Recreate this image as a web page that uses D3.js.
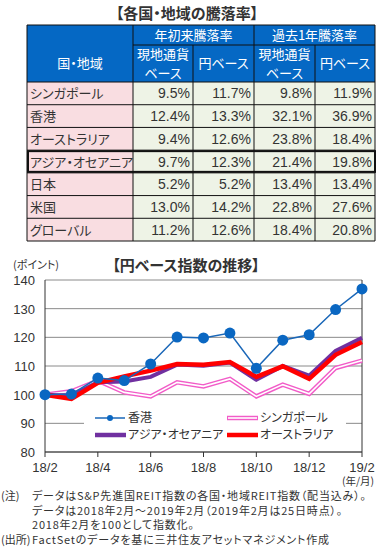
<!DOCTYPE html>
<meta charset="utf-8">
<style>
body { margin: 0; background: #fff; }
svg text { font-family: "Noto Sans CJK JP", "DejaVu Sans", sans-serif; font-feature-settings: "palt" 1; }
.num { font-family: "Liberation Sans", "Noto Sans CJK JP", sans-serif; }
.title { font-size: 15px; font-weight: bold; fill: #333; }
.hdr { fill: #fff; font-size: 13px; }
.cell { fill: #333; font-size: 13px; }
.tick { fill: #333; font-size: 13px; }
.note { fill: #333; font-size: 11px; letter-spacing: 0.8px; }
.leg { fill: #333; font-size: 12px; }
</style>
<svg width="388" height="549"></svg>
<script src="https://d3js.org/d3.v7.min.js"></script>
<script>
// table
var regions = ["シンガポール", "香港", "オーストラリア", "アジア・オセアニア", "日本", "米国", "グローバル"];
var ytdLocal = [9.5, 12.4, 9.4, 9.7, 5.2, 13.0, 11.2];
var ytdYen   = [11.7, 13.3, 12.6, 12.3, 5.2, 14.2, 12.6];
var yrLocal  = [9.8, 32.1, 23.8, 21.4, 13.4, 22.8, 18.4];
var yrYen    = [11.9, 36.9, 18.4, 19.8, 13.4, 27.6, 20.8];

// index chart (2018/2 = 100)
var months = ["18/2", "18/3", "18/4", "18/5", "18/6", "18/7", "18/8", "18/9", "18/10", "18/11", "18/12", "19/1", "19/2"];
var hongKong  = [100, 100.2, 105.8, 104.9, 110.7, 120.1, 119.8, 121.5, 109.2, 119.0, 120.9, 129.7, 136.9];
var singapore = [100, 101.2, 104.9, 100.8, 99.4, 104.3, 102.9, 105.5, 99.4, 103.5, 100.3, 109.3, 111.9];
var asiaOce   = [100, 99.6, 104.3, 104.6, 106.2, 110.5, 110.1, 111.2, 105.2, 110.0, 106.6, 115.3, 119.8];
var australia = [100, 98.5, 104.1, 106.4, 108.4, 110.7, 110.4, 111.4, 106.2, 109.9, 105.5, 113.9, 118.4];
var yTicks = [80, 90, 100, 110, 120, 130, 140];
var xTickLabels = ["18/2", "18/4", "18/6", "18/8", "18/10", "18/12", "19/2"];

var svg = d3.select("svg");

// ---------- table ----------
svg.append("text").attr("class", "title").attr("x", 187).attr("y", 19)
  .attr("text-anchor", "middle").text("【各国・地域の騰落率】");

var colX = [27, 133, 193, 254, 315, 375];
var row = d3.scaleBand().domain(regions).range([82, 241]);
var t = svg.append("g");

t.append("rect").attr("x", colX[0]).attr("y", 25).attr("width", colX[5] - colX[0]).attr("height", 57)
  .attr("fill", "#0568c4");

var cols = [ytdLocal, ytdYen, yrLocal, yrYen];
regions.forEach(function (r, i) {
  var y0 = row(r), h = row.bandwidth();
  t.append("rect").attr("x", colX[0]).attr("y", y0).attr("width", colX[1] - colX[0]).attr("height", h)
    .attr("fill", "#f9dde1");
  t.append("rect").attr("x", colX[1]).attr("y", y0).attr("width", colX[5] - colX[1]).attr("height", h)
    .attr("fill", "#eef3e6");
  t.append("text").attr("class", "cell").attr("x", colX[0] + 3).attr("y", y0 + h / 2 + 5).text(r);
  cols.forEach(function (c, j) {
    t.append("text").attr("class", "cell num").attr("x", colX[j + 2] - 3).attr("y", y0 + h / 2 + 5)
      .attr("text-anchor", "end").style("font-size", "14px").text(c[i].toFixed(1) + "%");
  });
});

// grid lines
var ln = function (x1, y1, x2, y2, w) {
  t.append("line").attr("x1", x1).attr("y1", y1).attr("x2", x2).attr("y2", y2)
    .attr("stroke", "#111").attr("stroke-width", w || 1);
};
ln(colX[0], 25, colX[5], 25);
ln(colX[1], 45, colX[5], 45);
ln(colX[0], 82, colX[5], 82);
regions.forEach(function (r) { ln(colX[0], row(r) + row.bandwidth(), colX[5], row(r) + row.bandwidth()); });
ln(colX[0], 25, colX[0], 241);
ln(colX[5], 25, colX[5], 241);
ln(colX[1], 25, colX[1], 241);
ln(colX[3], 25, colX[3], 241);
ln(colX[2], 45, colX[2], 241);
ln(colX[4], 45, colX[4], 241);
// emphasised box round アジア・オセアニア
var ay = row("アジア・オセアニア");
t.append("rect").attr("x", colX[0] + 1).attr("y", ay + 1).attr("width", colX[5] - colX[0] - 1)
  .attr("height", row.bandwidth() - 2).attr("fill", "none").attr("stroke", "#111").attr("stroke-width", 2);

// headers
function hdr(x, y, s) {
  t.append("text").attr("class", "hdr").attr("x", x).attr("y", y).attr("text-anchor", "middle").text(s);
}
hdr((colX[0] + colX[1]) / 2, 68, "国・地域");
hdr((colX[1] + colX[3]) / 2, 40, "年初来騰落率");
hdr((colX[3] + colX[5]) / 2, 40, "過去1年騰落率");
[1, 3].forEach(function (k) {
  hdr((colX[k] + colX[k + 1]) / 2, 59, "現地通貨");
  hdr((colX[k] + colX[k + 1]) / 2, 78, "ベース");
  hdr((colX[k + 1] + colX[k + 2]) / 2, 68, "円ベース");
});

// ---------- line chart ----------
var x = d3.scaleLinear().domain([0, months.length - 1]).range([45, 362]);
var y = d3.scaleLinear().domain([80, 140]).range([452, 280]);
var c = svg.append("g");

c.append("text").attr("class", "title").attr("x", 186).attr("y", 271).attr("text-anchor", "middle")
  .text("【円ベース指数の推移】");
c.append("text").attr("fill", "#333").attr("x", 13).attr("y", 269).style("font-size", "11px").text("(ポイント)");

c.selectAll(".grid").data(yTicks).enter().append("line")
  .attr("x1", x(0)).attr("x2", x(12)).attr("y1", d => y(d)).attr("y2", d => y(d))
  .attr("stroke", "#8a8a8a").attr("stroke-width", 1);
c.selectAll(".ylab").data(yTicks).enter().append("text").attr("class", "tick num")
  .attr("x", 35).attr("y", d => y(d) + 5).attr("text-anchor", "end").text(d => d);

c.append("line").attr("x1", x(0)).attr("x2", x(0)).attr("y1", y(140)).attr("y2", y(80)).attr("stroke", "#333");
c.append("line").attr("x1", x(12)).attr("x2", x(12)).attr("y1", y(140)).attr("y2", y(80)).attr("stroke", "#333");
c.append("line").attr("x1", x(0)).attr("x2", x(12)).attr("y1", y(80)).attr("y2", y(80)).attr("stroke", "#333");

c.selectAll(".xt").data(xTickLabels).enter().append("line")
  .attr("x1", d => x(months.indexOf(d))).attr("x2", d => x(months.indexOf(d)))
  .attr("y1", y(80)).attr("y2", y(80) + 5).attr("stroke", "#333");
c.selectAll(".xlab").data(xTickLabels).enter().append("text").attr("class", "tick num")
  .attr("x", d => x(months.indexOf(d))).attr("y", 471.5).attr("text-anchor", "middle").text(d => d);
c.append("text").attr("class", "tick").attr("x", 358).attr("y", 485).attr("text-anchor", "middle")
  .style("font-size", "10.5px").text("(年/月)");

var line = d3.line().x((d, i) => x(i)).y(d => y(d));
c.append("path").attr("d", line(singapore)).attr("fill", "none").attr("stroke", "#f25cc8").attr("stroke-width", 4.5);
c.append("path").attr("d", line(singapore)).attr("fill", "none").attr("stroke", "#fff").attr("stroke-width", 1.6);
c.append("path").attr("d", line(asiaOce)).attr("fill", "none").attr("stroke", "#7030a0").attr("stroke-width", 4);
c.append("path").attr("d", line(australia)).attr("fill", "none").attr("stroke", "#ff0000").attr("stroke-width", 4.5);
c.append("path").attr("d", line(hongKong)).attr("fill", "none").attr("stroke", "#1a67b8").attr("stroke-width", 1.5);
c.selectAll(".hk").data(hongKong).enter().append("circle")
  .attr("cx", (d, i) => x(i)).attr("cy", d => y(d)).attr("r", 5.5).attr("fill", "#0a67c2");

// legend
var lg = c.append("g");
lg.append("rect").attr("x", 84).attr("y", 406).attr("width", 262).attr("height", 38).attr("fill", "#fff");
var legItems = [
  {name: "香港", lx: 95, ly: 418},
  {name: "シンガポール", lx: 227, ly: 418},
  {name: "アジア・オセアニア", lx: 95, ly: 435},
  {name: "オーストラリア", lx: 227, ly: 435}
];
legItems.forEach(function (d) {
  var g = lg.append("g");
  if (d.name === "香港") {
    g.append("line").attr("x1", d.lx).attr("x2", d.lx + 30).attr("y1", d.ly).attr("y2", d.ly).attr("stroke", "#1a67b8").attr("stroke-width", 1.5);
    g.append("circle").attr("cx", d.lx + 15).attr("cy", d.ly).attr("r", 3).attr("fill", "#0a67c2");
  } else if (d.name === "シンガポール") {
    g.append("line").attr("x1", d.lx).attr("x2", d.lx + 31).attr("y1", d.ly).attr("y2", d.ly).attr("stroke", "#f25cc8").attr("stroke-width", 4.5);
    g.append("line").attr("x1", d.lx + 1).attr("x2", d.lx + 30).attr("y1", d.ly).attr("y2", d.ly).attr("stroke", "#fff").attr("stroke-width", 1.6);
  } else {
    g.append("line").attr("x1", d.lx).attr("x2", d.lx + 31).attr("y1", d.ly).attr("y2", d.ly)
      .attr("stroke", d.name === "オーストラリア" ? "#ff0000" : "#7030a0").attr("stroke-width", 4.5);
  }
  g.append("text").attr("class", "leg").attr("x", d.lx + 33).attr("y", d.ly + 4).text(d.name);
});

// notes
var notes = [
  ["(注)", "データはS&P先進国REIT指数の各国・地域REIT指数（配当込み）。"],
  ["", "データは2018年2月～2019年2月（2019年2月は25日時点）。"],
  ["", "2018年2月を100として指数化。"],
  ["(出所)", "FactSetのデータを基に三井住友アセットマネジメント作成"]
];
var ny = [500, 514.7, 529.4, 544];
notes.forEach(function (n, i) {
  if (n[0]) svg.append("text").attr("class", "note").attr("x", 1).attr("y", ny[i]).style("letter-spacing", "0px").text(n[0]);
  svg.append("text").attr("class", "note").attr("x", 32).attr("y", ny[i]).text(n[1]);
});
</script>
